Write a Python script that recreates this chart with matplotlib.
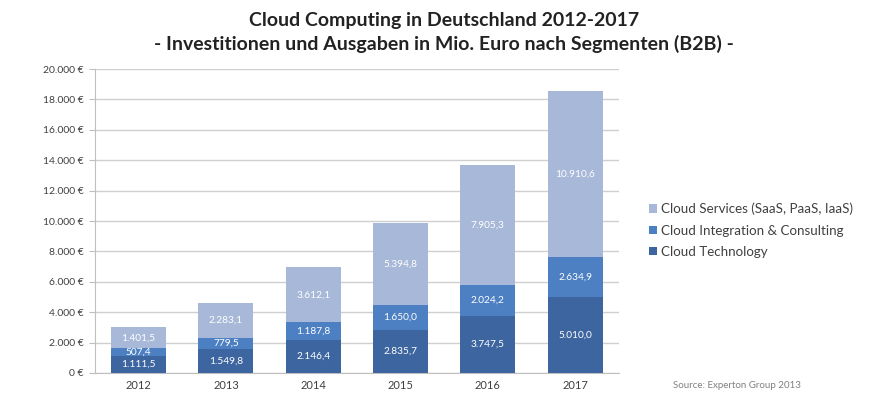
import matplotlib
matplotlib.use("Agg")
import matplotlib.pyplot as plt
import numpy as np

years = ["2012", "2013", "2014", "2015", "2016", "2017"]
technology = [1111.5, 1549.8, 2146.4, 2835.7, 3747.5, 5010.0]
integration = [507.4, 779.5, 1187.8, 1650.0, 2024.2, 2634.9]
services = [1401.5, 2283.1, 3612.1, 5394.8, 7905.3, 10910.6]
series_names = ["Cloud Technology", "Cloud Integration & Consulting",
                "Cloud Services (SaaS, PaaS, IaaS)"]
yticks = list(range(0, 20001, 2000))

colors = ["#3d65a0", "#4c80c2", "#a7b8d8"]

plt.rcParams['font.family'] = ['Lato', 'DejaVu Sans']

def de(v, dec=1):
    s = f"{v:,.{dec}f}"
    return s.replace(",", "X").replace(".", ",").replace("X", ".")

fig = plt.figure(figsize=(8.76, 3.97), dpi=100)
ax = fig.add_axes([0.1084, 0.0605, 0.598, 0.7655])

x = np.arange(len(years))
w = 0.63
bottom = np.zeros(len(years))
for vals, col, name in zip([technology, integration, services], colors, series_names):
    ax.bar(x, vals, w, bottom=bottom, color=col, label=name, zorder=3)
    for xi, v, bt in zip(x, vals, bottom):
        ax.text(xi, bt + v / 2, de(v), ha="center", va="center",
                color="white", fontsize=7.3, zorder=4)
    bottom = bottom + np.array(vals)

ax.set_xlim(-0.5, len(years) - 0.5)
ax.set_ylim(0, 20000)
ax.set_yticks(yticks)
ax.set_yticklabels([de(t, 0) + " €" for t in yticks], fontsize=7.5, color="#404040")
ax.set_xticks(x)
ax.set_xticklabels(years, fontsize=8, color="#404040")
ax.grid(axis="y", color="#cfcfcf", linewidth=1, zorder=0)
for s in ["top", "right"]:
    ax.spines[s].set_visible(False)
ax.spines["left"].set_color("#bfbfbf")
ax.spines["bottom"].set_color("#bfbfbf")
ax.tick_params(axis="y", length=4, color="#bfbfbf", pad=4)
ax.tick_params(axis="x", length=0, pad=5)

handles, labels = ax.get_legend_handles_labels()
fig.legend(handles[::-1], labels[::-1], loc="center left",
           bbox_to_anchor=(0.727, 0.42), frameon=False, fontsize=9.6,
           handlelength=0.6, handleheight=0.6, handletextpad=0.3,
           labelspacing=0.7, labelcolor="#404040")

fig.text(0.507, 0.948, "Cloud Computing in Deutschland 2012-2017", ha="center",
         va="center", fontsize=14, fontweight="bold", color="#222222")
fig.text(0.507, 0.89, "- Investitionen und Ausgaben in Mio. Euro nach Segmenten (B2B) -",
         ha="center", va="center", fontsize=14, fontweight="bold", color="#222222")
fig.text(0.768, 0.03, "Source: Experton Group 2013", ha="left", va="center",
         fontsize=7, color="#808080")

fig.savefig("out.png", dpi=100)
